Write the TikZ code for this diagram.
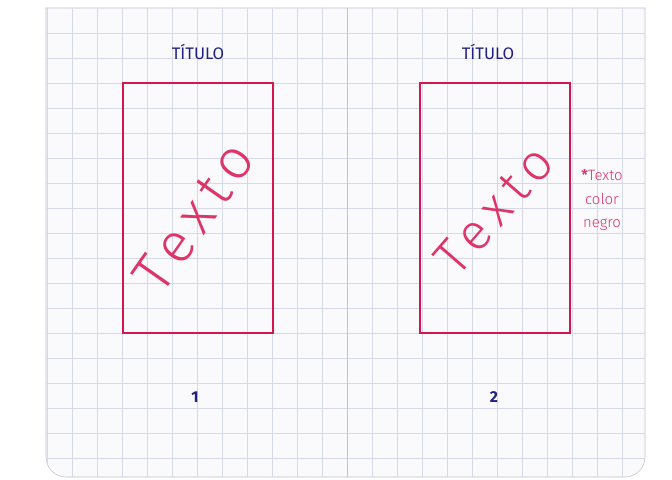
\documentclass[tikz,border=0pt]{standalone}
\usepackage{fontspec}
\setmainfont{Fira Sans}
\newfontfamily\finafont{Fira Sans Light}
\newfontfamily\anchafont[LetterSpace=16]{Fira Sans Light}
\definecolor{tinta}{RGB}{210,22,78}
\definecolor{tintaclara}{RGB}{222,52,104}
\definecolor{azul}{RGB}{32,32,128}
\definecolor{papel}{RGB}{250,250,253}
\definecolor{linea}{RGB}{214,217,232}
\definecolor{borde}{RGB}{192,195,208}

\begin{document}
\begin{tikzpicture}[>=stealth,scale=1,
	cuadro/.style={linea,line width=0.7pt},
	marco/.style={draw=tinta,line width=2pt,minimum width=6cm,minimum height=10cm,inner sep=0pt},
	inclinado/.style={text=tintaclara,font=\anchafont\fontsize{64}{64}\selectfont,inner sep=0pt},
	titulo/.style={text=azul,font=\fontsize{19}{19}\selectfont,inner sep=0pt},
	nota/.style={text=tintaclara,align=center,font=\finafont\fontsize{17}{27}\selectfont,inner sep=0pt},
	numero/.style={text=azul,font=\bfseries\fontsize{18}{18}\selectfont,inner sep=0pt}]
	  \useasboundingbox (0,0) rectangle (26.88,-19.16);
	  \fill[white] (0,0) rectangle (26.88,-19.16);
	  % hoja
	  \filldraw[fill=papel,draw=borde,line width=0.6pt] (1.84,-0.32) -- (25.8,-0.32) -- (25.8,-18.28)
	    arc[start angle=0,end angle=-90,radius=0.8] -- (2.64,-19.08)
	    arc[start angle=270,end angle=180,radius=0.8] -- cycle;
	  \begin{scope}
	    \clip (1.84,-0.32) -- (25.8,-0.32) -- (25.8,-18.28)
	      arc[start angle=0,end angle=-90,radius=0.8] -- (2.64,-19.08)
	      arc[start angle=270,end angle=180,radius=0.8] -- cycle;
	    \foreach \i in {0,...,23} \draw[cuadro] (1.88+\i,0) -- (1.88+\i,-19.2);
	    \foreach \j in {0,...,17} \draw[cuadro] (1.8,-1.32-\j) -- (25.9,-1.32-\j);
	  \end{scope}
	  \draw[borde,line width=0.9pt] (13.88,-0.32) -- (13.88,-19.08);
	  % pagina 1
	  \node[titulo] (titulo1) at (7.92,-2.08) {TÍTULO};
	  \node[marco] (caja1) at (7.92,-8.32) {};
	  \node[inclinado,rotate=55] (texto1) at (7.76,-8.68) {Texto};
	  \node[numero] (num1) at (7.8,-15.88) {1};
	  % pagina 2
	  \node[titulo] (titulo2) at (19.52,-2.08) {TÍTULO};
	  \node[marco] (caja2) at (19.8,-8.32) {};
	  \node[inclinado,rotate=49,font=\anchafont\fontsize{58}{58}\selectfont] (texto2) at (19.76,-8.4) {Texto};
	  \node[nota] (nota) at (24.08,-8.0) {\textbf{*}Texto\\color\\negro};
	  \node[numero] (num2) at (19.76,-15.88) {2};
	\end{tikzpicture}
\end{document}
